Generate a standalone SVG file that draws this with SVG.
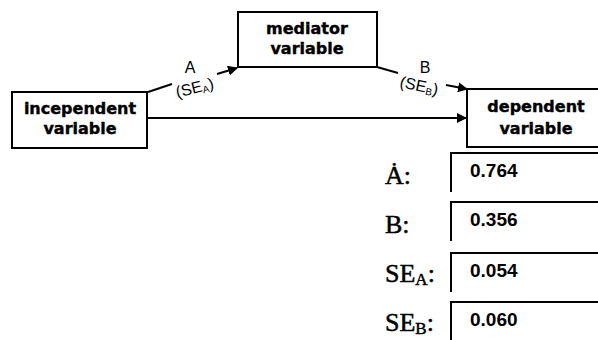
<svg xmlns="http://www.w3.org/2000/svg" width="598" height="340" viewBox="0 0 598 340">
<style>
.box{fill:#fff;stroke:#000;stroke-width:2}
.nt{font-family:"DejaVu Sans",sans-serif;font-weight:bold;font-size:16px;fill:#000;stroke:#000;stroke-width:0.4;text-anchor:middle}
.ln{stroke:#000;stroke-width:2;fill:none}
.cl{font-family:"Liberation Sans",Arial,sans-serif;font-size:16px;fill:#000}
.lb{font-family:"Liberation Serif","Times New Roman",serif;font-size:26px;fill:#000;stroke:#000;stroke-width:0.5}
.val{font-family:"Liberation Sans",Arial,sans-serif;font-weight:bold;font-size:19px;fill:#000}
.fld{stroke:#000;stroke-width:2;fill:none}
</style>
<defs>
<marker id="arr" viewBox="0 0 10 10" refX="9" refY="5" markerWidth="5" markerHeight="5" orient="auto" markerUnits="strokeWidth">
<path d="M0,0 L10,5 L0,10 z" fill="#000"/>
</marker>
</defs>
<g id="independent">
<rect class="box" x="12" y="92" width="135" height="56"/>
<text class="nt" x="80" y="114">incependent</text>
<text class="nt" x="80" y="134">variable</text>
</g>
<g id="mediator">
<rect class="box" x="238" y="12" width="139" height="55"/>
<text class="nt" x="307" y="34">mediator</text>
<text class="nt" x="307" y="54">variable</text>
</g>
<g id="dependent">
<rect class="box" x="467" y="89" width="150" height="58"/>
<text class="nt" x="536" y="112">dependent</text>
<text class="nt" x="536" y="134">variable</text>
</g>
<g id="connectors">
<line class="ln" x1="148" y1="92" x2="172" y2="84"/>
<line class="ln" x1="217" y1="74" x2="237" y2="68" marker-end="url(#arr)"/>
<line class="ln" x1="377" y1="67" x2="398" y2="73"/>
<line class="ln" x1="446" y1="85" x2="467" y2="89" marker-end="url(#arr)"/>
<line class="ln" x1="148" y1="118" x2="466" y2="118" marker-end="url(#arr)"/>
<text class="cl" x="190" y="73" text-anchor="middle" font-size="17">A</text>
<text class="cl" transform="translate(196,93) rotate(-14)" text-anchor="middle">(SE<tspan font-size="10" dy="2">A</tspan><tspan dy="-2">)</tspan></text>
<text class="cl" x="425" y="73" text-anchor="middle" font-size="17">B</text>
<text class="cl" transform="translate(418,91) rotate(12)" text-anchor="middle">(SE<tspan font-size="10" dy="2">B</tspan><tspan dy="-2">)</tspan></text>
</g>
<g id="results">
<text class="lb" x="385" y="184">Ȧ:</text>
<text class="lb" x="385" y="233">B:</text>
<text class="lb" x="385" y="282">SE<tspan font-size="17" dy="3">A</tspan><tspan dy="-3">:</tspan></text>
<text class="lb" x="385" y="331">SE<tspan font-size="17" dy="3">B</tspan><tspan dy="-3">:</tspan></text>
<path class="fld" d="M451,192 V153 H600"/>
<path class="fld" d="M451,241 V202 H600"/>
<path class="fld" d="M451,292 V253 H600"/>
<path class="fld" d="M451,341 V302 H600"/>
<text class="val" x="470" y="177">0.764</text>
<text class="val" x="470" y="226">0.356</text>
<text class="val" x="470" y="277">0.054</text>
<text class="val" x="470" y="326">0.060</text>
</g>
</svg>
